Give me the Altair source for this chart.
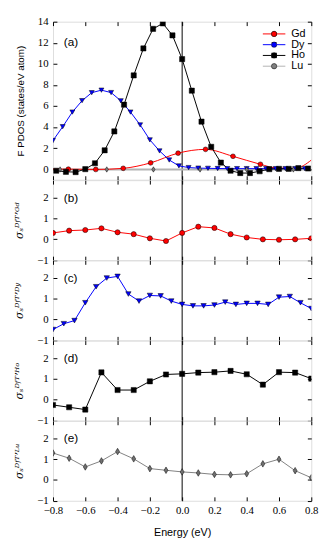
import altair as alt
import pandas as pd

# ---------------- data ----------------
names = ["Gd", "Dy", "Ho", "Lu"]
line_colors = ["#ff0000", "#0000ff", "#000000", "#b3b3b3"]
marker_fills = ["#ff0000", "#0000ff", "#000000", "#808080"]
thin_diamond = "M0,-1L0.6,0L0,1L-0.6,0Z"
marker_shapes = ["circle", "triangle-down", "square", thin_diamond]
marker_sizes = [24, 30, 28, 45]

x_ticks = [-0.8, -0.6, -0.4, -0.2, 0.0, 0.2, 0.4, 0.6, 0.8]
ya_ticks = [0, 2, 4, 6, 8, 10, 12, 14]
ys_ticks = [-1, 0, 1, 2]
x_domain = [-0.8, 0.8]
ya_domain = [-1, 14]
ys_domain = [-1, 2.85]
zero_energy = [0.0]
panel_labels = ["(a)", "(b)", "(c)", "(d)", "(e)"]
sigma_titles = ["σₛᴰᶠᵀʼᴳᵈ", "σₛᴰᶠᵀʼᴰʸ", "σₛᴰᶠᵀʼᴴᵒ", "σₛᴰᶠᵀʼᴸᵘ"]

# panel (a): F PDOS
gd_line_e = [-0.80, -0.705, -0.535, -0.365, -0.195, -0.025, 0.145, 0.315, 0.485, 0.58, 0.70, 0.80]
gd_line_v = [0.0, 0.0, -0.03, 0.08, 0.60, 1.52, 1.88, 1.22, 0.46, 0.12, 0.08, 0.86]
gd_mark_e = [-0.705, -0.535, -0.365, -0.195, -0.025, 0.145, 0.315, 0.485]
gd_mark_v = [0.0, -0.03, 0.08, 0.60, 1.52, 1.88, 1.22, 0.46]

dy_e = [-0.80, -0.74, -0.68, -0.62, -0.56, -0.50, -0.44, -0.38, -0.32, -0.26, -0.20, -0.14, -0.08,
        -0.02, 0.04, 0.10, 0.16, 0.22, 0.28, 0.34, 0.40, 0.46, 0.52, 0.58, 0.64, 0.70, 0.76]
dy_v = [2.72, 4.03, 5.42, 6.50, 7.26, 7.50, 7.27, 6.49, 5.42, 4.20, 2.78, 1.73, 0.87,
        0.31, 0.15, 0.10, 0.08, 0.06, 0.05, 0.05, 0.05, 0.05, 0.05, 0.05, 0.05, 0.05, 0.05]

ho_e = [-0.78, -0.72, -0.66, -0.60, -0.54, -0.48, -0.42, -0.36, -0.30, -0.24, -0.18, -0.12, -0.06,
        0.00, 0.06, 0.12, 0.18, 0.24, 0.30, 0.36, 0.42, 0.48, 0.54, 0.60, 0.66, 0.72, 0.78]
ho_v = [-0.15, -0.25, -0.28, 0.00, 0.56, 1.79, 3.58, 6.12, 8.90, 11.46, 13.32, 13.84, 12.70,
        10.45, 7.45, 4.51, 2.12, 0.62, -0.15, -0.37, -0.37, -0.20, 0.00, 0.03, 0.03, 0.10, 0.06]

lu_line_e = [-0.80, -0.756, -0.467, -0.178, 0.111, 0.400, 0.689, 0.80]
lu_line_v = [-0.03, -0.03, -0.03, -0.03, -0.03, -0.03, -0.03, -0.03]
lu_mark_e = [-0.756, -0.467, -0.178, 0.111, 0.400, 0.689]
lu_mark_v = [-0.03, -0.03, -0.03, -0.03, -0.03, -0.03]

# panels (b)-(e): sigma_s^DFT
e17 = [-0.8, -0.7, -0.6, -0.5, -0.4, -0.3, -0.2, -0.1, 0.0, 0.1, 0.2, 0.3, 0.4, 0.5, 0.6, 0.7, 0.8]
e25 = [-0.8, -0.733, -0.667, -0.6, -0.533, -0.467, -0.4, -0.333, -0.267, -0.2, -0.133, -0.067, 0.0,
       0.067, 0.133, 0.2, 0.267, 0.333, 0.4, 0.467, 0.533, 0.6, 0.667, 0.733, 0.8]
sigma_gd = [0.31, 0.42, 0.45, 0.53, 0.34, 0.25, 0.05, -0.08, 0.31, 0.61, 0.55, 0.25, 0.09, 0.0, -0.02, 0.0, 0.05]
sigma_dy = [-0.48, -0.20, -0.05, 0.81, 1.58, 2.00, 2.08, 1.23, 0.89, 1.16, 1.14, 0.89, 0.73,
            0.66, 0.66, 0.70, 0.84, 0.73, 0.78, 0.78, 0.73, 1.08, 1.11, 0.81, 0.53]
sigma_ho = [-0.25, -0.36, -0.47, 1.32, 0.47, 0.47, 0.89, 1.22, 1.25, 1.31, 1.33, 1.39, 1.23, 0.73, 1.33, 1.31, 1.02]
sigma_lu = [1.30, 1.05, 0.63, 0.92, 1.37, 1.02, 0.55, 0.47, 0.39, 0.34, 0.27, 0.25, 0.30, 0.78, 1.00, 0.45, 0.11]

# ---------------- layout / style ----------------
W = 264
HA = 161.5
HS = 81.7
SANS = "Liberation Sans"
SERIF = "Liberation Serif"

xs = alt.Scale(domain=x_domain, nice=False, zero=False)


def y_scale(dom):
    return alt.Scale(domain=dom, nice=False, zero=False)


def axis_layers(df, H, ydom, yvals, ytitle, show_x, title_font, title_size, title_pad, title_style):
    ys = y_scale(ydom)
    base = alt.Chart(df).mark_point(opacity=0)
    xa = dict(values=x_ticks, grid=False, domain=False, labelFlush=False, labelOverlap=False)
    ya = dict(values=yvals, grid=False, domain=False, labelFlush=False, labelOverlap=False)
    if show_x:
        x_main = alt.Axis(orient="bottom", format=".1f", labels=True, ticks=False, labelPadding=4,
                          labelFont=SERIF, labelFontSize=11, labelColor="black",
                          title="Energy (eV)", titleFont=SANS, titleFontSize=11,
                          titleFontWeight="normal", titleColor="black", titlePadding=11, **xa)
    else:
        x_main = alt.Axis(orient="bottom", labels=False, ticks=False, title=None, **xa)
    y_main = alt.Axis(orient="left", format="d", labels=True, ticks=False, labelPadding=5,
                      labelFont=SERIF, labelFontSize=11, labelColor="black",
                      title=ytitle, titleFont=title_font, titleFontSize=title_size,
                      titleFontWeight="normal", titleFontStyle=title_style, titleColor="black",
                      titlePadding=title_pad, **ya)
    tick = dict(labels=False, ticks=True, tickSize=4, tickColor="black", tickWidth=1, title=None)
    a = base.encode(x=alt.X("e:Q", scale=xs, axis=x_main), y=alt.Y("v:Q", scale=ys, axis=y_main))
    b = base.encode(
        x=alt.X("e:Q", scale=xs, axis=alt.Axis(orient="top", offset=-H, **tick, **xa)),
        y=alt.Y("v:Q", scale=ys, axis=alt.Axis(orient="right", offset=-W, **tick, **ya)),
    )
    c = base.encode(
        x=alt.X("e:Q", scale=xs, axis=alt.Axis(orient="bottom", offset=-H, **tick, **xa)),
        y=alt.Y("v:Q", scale=ys, axis=alt.Axis(orient="left", offset=-W, **tick, **ya)),
    )
    return [a, b, c]


def zero_rule():
    return alt.Chart(pd.DataFrame({"e": zero_energy})).mark_rule(color="black", strokeWidth=1).encode(
        x=alt.X("e:Q", scale=xs, axis=None)
    )


def label_layer(text, ypix):
    return alt.Chart(pd.DataFrame({"label": [text]})).mark_text(
        align="left", baseline="middle", font=SANS, fontSize=12, color="black"
    ).encode(x=alt.value(11), y=alt.value(ypix), text="label:N")


# ---------------- panel (a) ----------------
def rows(series, es, vs):
    return pd.DataFrame({"series": series, "series_l": series, "e": es, "v": vs})


gd_line_df = rows("Gd", gd_line_e, gd_line_v)
dyho_line_df = pd.concat([rows("Dy", dy_e, dy_v), rows("Ho", ho_e, ho_v)], ignore_index=True)
lu_line_df = rows("Lu", lu_line_e, lu_line_v)
marks_a_df = pd.concat(
    [rows("Gd", gd_mark_e, gd_mark_v), rows("Dy", dy_e, dy_v), rows("Ho", ho_e, ho_v),
     rows("Lu", lu_mark_e, lu_mark_v)],
    ignore_index=True,
)

ysa = y_scale(ya_domain)
LX, LY = 220.5, 7
ROWPAD = -2
line_legend = alt.Legend(
    orient="none", legendX=LX, legendY=LY, title=None, symbolType="M-4.2,0H-1M1,0H4.2",
    symbolSize=30, symbolStrokeWidth=1, labelFont=SANS, labelFontSize=11, labelColor="black",
    labelOffset=12, rowPadding=ROWPAD, padding=0,
)
mark_legend = alt.Legend(
    orient="none", legendX=LX, legendY=LY, title=None, symbolSize=30,
    symbolStrokeColor="black", symbolStrokeWidth=0.5, labelFont=SANS, labelFontSize=11,
    labelOffset=12, labelOpacity=0, rowPadding=ROWPAD, padding=0,
)
stroke_scale = alt.Scale(domain=names, range=line_colors)


def line_layer(df, width, legend, interp):
    return alt.Chart(df).mark_line(strokeWidth=width, clip=True, interpolate=interp).encode(
        x=alt.X("e:Q", scale=xs, axis=None),
        y=alt.Y("v:Q", scale=ysa, axis=None),
        stroke=alt.Stroke("series_l:N", scale=stroke_scale, legend=legend),
        detail="series:N",
    )


points_a = alt.Chart(marks_a_df).mark_point(filled=True, stroke="black", strokeWidth=0.5, opacity=1, clip=True).encode(
    x=alt.X("e:Q", scale=xs, axis=None),
    y=alt.Y("v:Q", scale=ysa, axis=None),
    fill=alt.Fill("series:N", sort=names, scale=alt.Scale(range=marker_fills), legend=mark_legend),
    shape=alt.Shape("series:N", sort=names, scale=alt.Scale(range=marker_shapes), legend=mark_legend),
    size=alt.Size("series:N", sort=names, scale=alt.Scale(range=marker_sizes), legend=None),
)

panel_a = alt.layer(
    zero_rule(),
    line_layer(lu_line_df, 2, line_legend, "linear"),
    line_layer(gd_line_df, 1, line_legend, "monotone"),
    line_layer(dyho_line_df, 1, line_legend, "linear"),
    points_a,
    label_layer(panel_labels[0], 21),
    *axis_layers(marks_a_df, HA, ya_domain, ya_ticks, "F PDOS (states/eV atom)", False, SANS, 10, 12, "normal"),
).resolve_axis(x="independent", y="independent").properties(width=W, height=HA)


# ---------------- panels (b)-(e) ----------------
def sigma_panel(es, vs, line_color, fill, shape, size, label, title, show_x):
    df = pd.DataFrame({"e": es, "v": vs})
    ys = y_scale(ys_domain)
    line = alt.Chart(df).mark_line(color=line_color, strokeWidth=1, clip=True).encode(
        x=alt.X("e:Q", scale=xs, axis=None), y=alt.Y("v:Q", scale=ys, axis=None)
    )
    pts = alt.Chart(df).mark_point(
        filled=True, fill=fill, stroke="black", strokeWidth=0.5, shape=shape, size=size, opacity=1, clip=True
    ).encode(x=alt.X("e:Q", scale=xs, axis=None), y=alt.Y("v:Q", scale=ys, axis=None))
    return alt.layer(
        zero_rule(), line, pts, label_layer(label, 18),
        *axis_layers(df, HS, ys_domain, ys_ticks, title, show_x, "DejaVu Serif", 11, 12, "italic"),
    ).resolve_axis(x="independent", y="independent").properties(width=W, height=HS)


panel_b = sigma_panel(e17, sigma_gd, "#ff0000", "#ff0000", "circle", 28, panel_labels[1], sigma_titles[0], False)
panel_c = sigma_panel(e25, sigma_dy, "#0000ff", "#0000ff", "triangle-down", 30, panel_labels[2], sigma_titles[1], False)
panel_d = sigma_panel(e17, sigma_ho, "#000000", "#000000", "square", 28, panel_labels[3], sigma_titles[2], False)
panel_e = sigma_panel(e17, sigma_lu, "#808080", "#707070", thin_diamond, 45, panel_labels[4], sigma_titles[3], True)

chart = (
    alt.vconcat(panel_a, panel_b, panel_c, panel_d, panel_e, spacing=0, bounds="flush")
    .resolve_scale(stroke="independent", fill="independent", shape="independent", size="independent")
    .properties(padding={"left": 5, "top": 1, "right": 5, "bottom": 5})
    .configure_view(stroke="black", strokeWidth=1)
    .configure_axis(labelFont=SERIF)
    .configure(background="white")
)

chart.save("out.html", embed_options={"renderer": "svg", "actions": False})
